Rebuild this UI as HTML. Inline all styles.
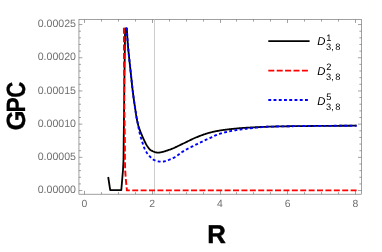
<!DOCTYPE html>
<html><head><meta charset="utf-8"><title>GPC vs R</title>
<style>
html,body{margin:0;padding:0;background:#fff;}
body{width:382px;height:252px;overflow:hidden;font-family:"Liberation Sans",sans-serif;}
svg{display:block;will-change:transform;text-rendering:geometricPrecision;font-family:"Liberation Sans",sans-serif;}
</style></head><body>
<svg width="382" height="252" viewBox="0 0 382 252">
<rect width="382" height="252" fill="#fff"/>
<rect x="78.95" y="19.6" width="282.45" height="174.60" fill="none" stroke="#666" stroke-width="0.62"/>
<line x1="154.5" y1="19.6" x2="154.5" y2="194.2" stroke="#cdcdcd" stroke-width="1"/>
<path d="M84.50 194.2v-3.4M84.50 19.6v3.4M101.50 194.2v-2.0M101.50 19.6v2.0M118.50 194.2v-2.0M118.50 19.6v2.0M135.50 194.2v-2.0M135.50 19.6v2.0M152.50 194.2v-3.4M152.50 19.6v3.4M169.50 194.2v-2.0M169.50 19.6v2.0M186.50 194.2v-2.0M186.50 19.6v2.0M203.50 194.2v-2.0M203.50 19.6v2.0M220.50 194.2v-3.4M220.50 19.6v3.4M236.50 194.2v-2.0M236.50 19.6v2.0M253.50 194.2v-2.0M253.50 19.6v2.0M270.50 194.2v-2.0M270.50 19.6v2.0M287.50 194.2v-3.4M287.50 19.6v3.4M304.50 194.2v-2.0M304.50 19.6v2.0M321.50 194.2v-2.0M321.50 19.6v2.0M338.50 194.2v-2.0M338.50 19.6v2.0M355.50 194.2v-3.4M355.50 19.6v3.4M78.95 190.55h3.4M361.4 190.55h-3.4M78.95 183.91h2.0M361.4 183.91h-2.0M78.95 177.27h2.0M361.4 177.27h-2.0M78.95 170.63h2.0M361.4 170.63h-2.0M78.95 163.99h2.0M361.4 163.99h-2.0M78.95 157.35h3.4M361.4 157.35h-3.4M78.95 150.71h2.0M361.4 150.71h-2.0M78.95 144.07h2.0M361.4 144.07h-2.0M78.95 137.43h2.0M361.4 137.43h-2.0M78.95 130.79h2.0M361.4 130.79h-2.0M78.95 124.15h3.4M361.4 124.15h-3.4M78.95 117.51h2.0M361.4 117.51h-2.0M78.95 110.87h2.0M361.4 110.87h-2.0M78.95 104.23h2.0M361.4 104.23h-2.0M78.95 97.59h2.0M361.4 97.59h-2.0M78.95 90.95h3.4M361.4 90.95h-3.4M78.95 84.31h2.0M361.4 84.31h-2.0M78.95 77.67h2.0M361.4 77.67h-2.0M78.95 71.03h2.0M361.4 71.03h-2.0M78.95 64.39h2.0M361.4 64.39h-2.0M78.95 57.75h3.4M361.4 57.75h-3.4M78.95 51.11h2.0M361.4 51.11h-2.0M78.95 44.47h2.0M361.4 44.47h-2.0M78.95 37.83h2.0M361.4 37.83h-2.0M78.95 31.19h2.0M361.4 31.19h-2.0M78.95 24.55h3.4M361.4 24.55h-3.4" stroke="#666" stroke-width="0.62" fill="none"/>
<path d="M108.20 177.00L110.20 190.10L121.30 190.10L123.00 170.00L123.50 160.00L123.70 140.00L124.20 100.00L125.00 35.00L125.10 28.50L126.80 28.50L127.38 38.11L127.95 45.82L128.53 51.81L129.10 57.46L129.68 62.88L130.26 68.16L130.83 73.37L131.41 78.84L131.98 84.42L132.56 89.66L133.14 94.32L133.71 98.64L134.29 102.66L134.86 106.41L135.44 110.28L136.02 114.40L136.59 117.77L137.17 120.78L137.74 123.37L138.32 125.54L138.89 127.41L139.47 129.09L140.05 130.67L140.62 132.17L141.20 133.59L141.77 134.94L142.35 136.25L142.93 137.52L143.50 138.78L144.08 140.05L144.65 141.30L145.23 142.51L145.81 143.66L146.38 144.71L146.96 145.64L147.53 146.49L148.11 147.33L148.69 148.12L149.26 148.85L149.84 149.47L150.41 149.98L150.99 150.35L151.57 150.65L152.14 150.93L152.72 151.21L153.29 151.46L153.87 151.70L154.45 151.91L155.02 152.10L155.60 152.26L156.17 152.40L156.75 152.50L157.32 152.57L157.90 152.60L158.48 152.59L159.05 152.57L159.63 152.52L160.20 152.44L160.78 152.35L161.36 152.24L161.93 152.12L162.51 151.97L163.08 151.82L163.66 151.66L164.24 151.48L164.81 151.30L165.39 151.11L165.96 150.92L166.54 150.72L167.12 150.53L167.69 150.33L168.27 150.14L168.84 149.95L169.42 149.76L170.00 149.57L170.57 149.37L171.15 149.15L171.72 148.93L172.30 148.70L172.88 148.46L173.45 148.21L174.03 147.96L174.60 147.70L175.18 147.43L175.75 147.16L176.33 146.88L176.91 146.61L177.48 146.32L178.06 146.04L178.63 145.76L179.21 145.47L179.79 145.19L180.36 144.91L180.94 144.63L181.51 144.35L182.09 144.07L182.67 143.80L183.24 143.53L183.82 143.27L184.39 142.99L184.97 142.72L185.55 142.44L186.12 142.15L186.70 141.87L187.27 141.58L187.85 141.30L188.43 141.01L189.00 140.73L189.58 140.44L190.15 140.16L190.73 139.88L191.31 139.60L191.88 139.32L192.46 139.05L193.03 138.78L193.61 138.51L194.18 138.26L194.76 138.00L195.34 137.76L195.91 137.52L196.49 137.28L197.06 137.05L197.64 136.82L198.22 136.59L198.79 136.37L199.37 136.14L199.94 135.92L200.52 135.70L201.10 135.48L201.67 135.27L202.25 135.05L202.82 134.85L203.40 134.64L203.98 134.44L204.55 134.24L205.13 134.05L205.70 133.86L206.28 133.68L206.86 133.50L207.43 133.33L208.01 133.16L208.58 132.99L209.16 132.84L209.74 132.69L210.31 132.54L210.89 132.39L211.46 132.25L212.04 132.11L212.62 131.97L213.19 131.84L213.77 131.71L214.34 131.58L214.92 131.46L215.49 131.34L216.07 131.22L216.65 131.11L217.22 130.99L217.80 130.89L218.37 130.78L218.95 130.68L219.53 130.58L220.10 130.48L220.68 130.39L221.25 130.30L221.83 130.21L222.41 130.13L222.98 130.05L223.56 129.97L224.13 129.89L224.71 129.81L225.29 129.74L225.86 129.67L226.44 129.60L227.01 129.53L227.59 129.46L228.17 129.39L228.74 129.33L229.32 129.26L229.89 129.19L230.47 129.13L231.05 129.07L231.62 129.00L232.20 128.94L232.77 128.88L233.35 128.82L233.92 128.76L234.50 128.70L235.08 128.64L235.65 128.58L236.23 128.53L236.80 128.47L237.38 128.42L237.96 128.37L238.53 128.32L239.11 128.27L239.68 128.22L240.26 128.17L240.84 128.13L241.41 128.08L241.99 128.04L242.56 128.00L243.14 127.96L243.72 127.92L244.29 127.88L244.87 127.84L245.44 127.80L246.02 127.77L246.60 127.73L247.17 127.70L247.75 127.66L248.32 127.63L248.90 127.60L249.48 127.56L250.05 127.53L250.63 127.50L251.20 127.47L251.78 127.43L252.35 127.40L252.93 127.37L253.51 127.34L254.08 127.31L254.66 127.28L255.23 127.25L255.81 127.22L256.39 127.19L256.96 127.16L257.54 127.13L258.11 127.10L258.69 127.07L259.27 127.04L259.84 127.02L260.42 126.99L260.99 126.96L261.57 126.94L262.15 126.91L262.72 126.89L263.30 126.86L263.87 126.84L264.45 126.82L265.03 126.80L265.60 126.78L266.18 126.76L266.75 126.74L267.33 126.72L267.91 126.71L268.48 126.69L269.06 126.67L269.63 126.65L270.21 126.64L270.78 126.62L271.36 126.60L271.94 126.59L272.51 126.57L273.09 126.56L273.66 126.54L274.24 126.53L274.82 126.51L275.39 126.50L275.97 126.48L276.54 126.47L277.12 126.46L277.70 126.44L278.27 126.43L278.85 126.42L279.42 126.40L280.00 126.39L280.58 126.38L281.15 126.37L281.73 126.36L282.30 126.35L282.88 126.34L283.46 126.33L284.03 126.32L284.61 126.31L285.18 126.30L285.76 126.29L286.34 126.28L286.91 126.27L287.49 126.26L288.06 126.25L288.64 126.24L289.22 126.24L289.79 126.23L290.37 126.22L290.94 126.21L291.52 126.20L292.09 126.20L292.67 126.19L293.25 126.18L293.82 126.17L294.40 126.17L294.97 126.16L295.55 126.15L296.13 126.14L296.70 126.14L297.28 126.13L297.85 126.12L298.43 126.12L299.01 126.11L299.58 126.11L300.16 126.10L300.73 126.09L301.31 126.09L301.89 126.08L302.46 126.07L303.04 126.07L303.61 126.06L304.19 126.06L304.77 126.05L305.34 126.05L305.92 126.04L306.49 126.03L307.07 126.03L307.65 126.02L308.22 126.02L308.80 126.01L309.37 126.01L309.95 126.00L310.52 125.99L311.10 125.99L311.68 125.98L312.25 125.98L312.83 125.97L313.40 125.97L313.98 125.96L314.56 125.96L315.13 125.95L315.71 125.95L316.28 125.94L316.86 125.94L317.44 125.93L318.01 125.93L318.59 125.92L319.16 125.92L319.74 125.91L320.32 125.91L320.89 125.90L321.47 125.90L322.04 125.89L322.62 125.89L323.20 125.88L323.77 125.88L324.35 125.87L324.92 125.87L325.50 125.86L326.08 125.86L326.65 125.86L327.23 125.85L327.80 125.85L328.38 125.84L328.95 125.84L329.53 125.84L330.11 125.83L330.68 125.83L331.26 125.82L331.83 125.82L332.41 125.82L332.99 125.81L333.56 125.81L334.14 125.81L334.71 125.80L335.29 125.80L335.87 125.79L336.44 125.79L337.02 125.79L337.59 125.79L338.17 125.78L338.75 125.78L339.32 125.78L339.90 125.77L340.47 125.77L341.05 125.77L341.63 125.76L342.20 125.76L342.78 125.76L343.35 125.75L343.93 125.75L344.51 125.75L345.08 125.75L345.66 125.74L346.23 125.74L346.81 125.74L347.38 125.74L347.96 125.73L348.54 125.73L349.11 125.73L349.69 125.73L350.26 125.72L350.84 125.72L351.42 125.72L351.99 125.72L352.57 125.71L353.14 125.71L353.72 125.71L354.30 125.71L354.87 125.71L355.45 125.70L356.02 125.70L356.60 125.70" stroke="#000" stroke-width="1.8" fill="none" stroke-linejoin="round"/>
<path d="M123.90 27.80L124.00 60.00L124.20 100.00L124.60 125.00L124.90 140.00L124.95 160.00L125.15 170.00L125.90 180.00L126.90 190.40L356.60 190.40" stroke="#f00" stroke-width="1.9" fill="none" stroke-linejoin="round" stroke-dasharray="6.0 2.4"/>
<path d="M126.00 28.50L126.80 28.50L127.38 38.11L127.95 45.82L128.53 51.81L129.10 57.46L129.68 62.88L130.26 68.16L130.83 73.37L131.41 78.84L131.98 84.42L132.56 89.66L133.14 94.32L133.71 98.64L134.29 102.66L134.86 106.41L135.44 110.28L136.02 114.40L136.59 117.59L137.17 120.40L137.74 123.19L138.32 126.30L138.89 129.52L139.47 132.30L140.05 134.61L140.62 136.67L141.20 138.58L141.77 140.42L142.35 142.26L142.93 144.09L143.50 145.84L144.08 147.46L144.65 148.87L145.23 150.04L145.81 151.08L146.38 152.05L146.96 152.93L147.53 153.75L148.11 154.51L148.69 155.20L149.26 155.84L149.84 156.44L150.41 157.03L150.99 157.60L151.57 158.15L152.14 158.67L152.72 159.15L153.29 159.57L153.87 159.93L154.45 160.23L155.02 160.44L155.60 160.62L156.17 160.80L156.75 160.96L157.32 161.12L157.90 161.26L158.48 161.38L159.05 161.49L159.63 161.58L160.20 161.64L160.78 161.68L161.36 161.70L161.93 161.69L162.51 161.65L163.08 161.59L163.66 161.50L164.24 161.40L164.81 161.27L165.39 161.12L165.96 160.96L166.54 160.78L167.12 160.59L167.69 160.39L168.27 160.17L168.84 159.95L169.42 159.71L170.00 159.48L170.57 159.23L171.15 158.98L171.72 158.74L172.30 158.49L172.88 158.24L173.45 157.99L174.03 157.71L174.60 157.40L175.18 157.05L175.75 156.69L176.33 156.29L176.91 155.89L177.48 155.46L178.06 155.03L178.63 154.59L179.21 154.15L179.79 153.71L180.36 153.27L180.94 152.85L181.51 152.44L182.09 152.04L182.67 151.67L183.24 151.32L183.82 150.98L184.39 150.64L184.97 150.31L185.55 149.99L186.12 149.67L186.70 149.35L187.27 149.04L187.85 148.73L188.43 148.43L189.00 148.13L189.58 147.83L190.15 147.53L190.73 147.24L191.31 146.94L191.88 146.65L192.46 146.36L193.03 146.08L193.61 145.79L194.18 145.50L194.76 145.22L195.34 144.93L195.91 144.64L196.49 144.36L197.06 144.07L197.64 143.79L198.22 143.50L198.79 143.22L199.37 142.94L199.94 142.66L200.52 142.38L201.10 142.11L201.67 141.83L202.25 141.56L202.82 141.29L203.40 141.01L203.98 140.74L204.55 140.47L205.13 140.21L205.70 139.94L206.28 139.67L206.86 139.41L207.43 139.15L208.01 138.88L208.58 138.62L209.16 138.36L209.74 138.10L210.31 137.84L210.89 137.57L211.46 137.30L212.04 137.03L212.62 136.77L213.19 136.50L213.77 136.23L214.34 135.97L214.92 135.70L215.49 135.45L216.07 135.20L216.65 134.95L217.22 134.72L217.80 134.49L218.37 134.27L218.95 134.06L219.53 133.86L220.10 133.67L220.68 133.49L221.25 133.31L221.83 133.14L222.41 132.98L222.98 132.82L223.56 132.66L224.13 132.51L224.71 132.37L225.29 132.23L225.86 132.09L226.44 131.96L227.01 131.83L227.59 131.71L228.17 131.59L228.74 131.47L229.32 131.35L229.89 131.24L230.47 131.13L231.05 131.02L231.62 130.91L232.20 130.81L232.77 130.71L233.35 130.60L233.92 130.51L234.50 130.41L235.08 130.31L235.65 130.22L236.23 130.13L236.80 130.04L237.38 129.95L237.96 129.86L238.53 129.78L239.11 129.69L239.68 129.61L240.26 129.53L240.84 129.45L241.41 129.37L241.99 129.29L242.56 129.22L243.14 129.14L243.72 129.07L244.29 129.00L244.87 128.93L245.44 128.86L246.02 128.79L246.60 128.73L247.17 128.66L247.75 128.60L248.32 128.53L248.90 128.47L249.48 128.41L250.05 128.34L250.63 128.28L251.20 128.22L251.78 128.16L252.35 128.10L252.93 128.04L253.51 127.98L254.08 127.92L254.66 127.86L255.23 127.80L255.81 127.74L256.39 127.68L256.96 127.61L257.54 127.55L258.11 127.49L258.69 127.43L259.27 127.37L259.84 127.31L260.42 127.25L260.99 127.19L261.57 127.14L262.15 127.09L262.72 127.05L263.30 127.00L263.87 126.96L264.45 126.93L265.03 126.90L265.60 126.87L266.18 126.85L266.75 126.82L267.33 126.79L267.91 126.77L268.48 126.75L269.06 126.72L269.63 126.70L270.21 126.68L270.78 126.66L271.36 126.64L271.94 126.62L272.51 126.60L273.09 126.58L273.66 126.56L274.24 126.55L274.82 126.53L275.39 126.51L275.97 126.50L276.54 126.48L277.12 126.47L277.70 126.45L278.27 126.44L278.85 126.42L279.42 126.41L280.00 126.40L280.58 126.39L281.15 126.37L281.73 126.36L282.30 126.35L282.88 126.34L283.46 126.33L284.03 126.32L284.61 126.31L285.18 126.30L285.76 126.29L286.34 126.28L286.91 126.27L287.49 126.26L288.06 126.25L288.64 126.24L289.22 126.23L289.79 126.22L290.37 126.22L290.94 126.21L291.52 126.20L292.09 126.19L292.67 126.18L293.25 126.18L293.82 126.17L294.40 126.16L294.97 126.16L295.55 126.15L296.13 126.14L296.70 126.13L297.28 126.13L297.85 126.12L298.43 126.12L299.01 126.11L299.58 126.10L300.16 126.10L300.73 126.09L301.31 126.08L301.89 126.08L302.46 126.07L303.04 126.07L303.61 126.06L304.19 126.06L304.77 126.05L305.34 126.04L305.92 126.04L306.49 126.03L307.07 126.03L307.65 126.02L308.22 126.02L308.80 126.01L309.37 126.01L309.95 126.00L310.52 125.99L311.10 125.99L311.68 125.98L312.25 125.98L312.83 125.97L313.40 125.97L313.98 125.96L314.56 125.96L315.13 125.95L315.71 125.95L316.28 125.94L316.86 125.94L317.44 125.93L318.01 125.93L318.59 125.92L319.16 125.92L319.74 125.91L320.32 125.91L320.89 125.90L321.47 125.90L322.04 125.89L322.62 125.89L323.20 125.88L323.77 125.88L324.35 125.87L324.92 125.87L325.50 125.86L326.08 125.86L326.65 125.86L327.23 125.85L327.80 125.85L328.38 125.84L328.95 125.84L329.53 125.84L330.11 125.83L330.68 125.83L331.26 125.82L331.83 125.82L332.41 125.82L332.99 125.81L333.56 125.81L334.14 125.81L334.71 125.80L335.29 125.80L335.87 125.79L336.44 125.79L337.02 125.79L337.59 125.79L338.17 125.78L338.75 125.78L339.32 125.78L339.90 125.77L340.47 125.77L341.05 125.77L341.63 125.76L342.20 125.76L342.78 125.76L343.35 125.75L343.93 125.75L344.51 125.75L345.08 125.75L345.66 125.74L346.23 125.74L346.81 125.74L347.38 125.74L347.96 125.73L348.54 125.73L349.11 125.73L349.69 125.73L350.26 125.72L350.84 125.72L351.42 125.72L351.99 125.72L352.57 125.71L353.14 125.71L353.72 125.71L354.30 125.71L354.87 125.71L355.45 125.70L356.02 125.70L356.60 125.70" stroke="#00f" stroke-width="1.9" fill="none" stroke-linejoin="round" stroke-dasharray="2.9 2.34"/>
<line x1="268.3" y1="41.2" x2="309.6" y2="41.2" stroke="#000" stroke-width="1.8"/>
<line x1="268.3" y1="70.7" x2="309.6" y2="70.7" stroke="#f00" stroke-width="1.8" stroke-dasharray="6.0 2.4"/>
<line x1="268.3" y1="100.0" x2="309.6" y2="100.0" stroke="#00f" stroke-width="1.8" stroke-dasharray="2.9 2.34"/>
<text x="317.3" y="45.4" font-size="11.3" font-style="italic" fill="#000">D</text>
<text x="326.3" y="41.0" font-size="9.3" fill="#000">1</text>
<text x="326.1" y="49.9" font-size="9.3" fill="#000">3,<tspan dx="1.3">8</tspan></text>
<text x="317.3" y="75.3" font-size="11.3" font-style="italic" fill="#000">D</text>
<text x="326.3" y="70.4" font-size="9.3" fill="#000">2</text>
<text x="326.1" y="79.9" font-size="9.3" fill="#000">3,<tspan dx="1.3">8</tspan></text>
<text x="317.3" y="105.0" font-size="11.3" font-style="italic" fill="#000">D</text>
<text x="326.3" y="99.9" font-size="9.3" fill="#000">5</text>
<text x="326.1" y="109.6" font-size="9.3" fill="#000">3,<tspan dx="1.3">8</tspan></text>
<text x="76.0" y="193.25" font-size="10.6" text-anchor="end" fill="#707070">0.00000</text>
<text x="76.0" y="160.05" font-size="10.6" text-anchor="end" fill="#707070">0.00005</text>
<text x="76.0" y="126.85" font-size="10.6" text-anchor="end" fill="#707070">0.00010</text>
<text x="76.0" y="93.65" font-size="10.6" text-anchor="end" fill="#707070">0.00015</text>
<text x="76.0" y="60.45" font-size="10.6" text-anchor="end" fill="#707070">0.00020</text>
<text x="76.0" y="27.25" font-size="10.6" text-anchor="end" fill="#707070">0.00025</text>
<text x="84.50" y="207.1" font-size="10.4" text-anchor="middle" fill="#707070">0</text>
<text x="152.25" y="207.1" font-size="10.4" text-anchor="middle" fill="#707070">2</text>
<text x="220.00" y="207.1" font-size="10.4" text-anchor="middle" fill="#707070">4</text>
<text x="287.75" y="207.1" font-size="10.4" text-anchor="middle" fill="#707070">6</text>
<text x="355.50" y="207.1" font-size="10.4" text-anchor="middle" fill="#707070">8</text>
<text x="216.6" y="242.5" font-size="25.7" font-weight="bold" text-anchor="middle" fill="#000" stroke="#000" stroke-width="0.5" stroke-linejoin="round">R</text>
<text transform="translate(24.5,130.6) rotate(-90) scale(0.9775,1)" font-size="26.4" font-weight="bold" fill="#000" stroke="#000" stroke-width="0.3" stroke-linejoin="round">G</text>
<text transform="translate(24.5,112.4) rotate(-90) scale(0.8634,1)" font-size="26.4" font-weight="bold" fill="#000" stroke="#000" stroke-width="0.3" stroke-linejoin="round">P</text>
<text transform="translate(24.5,97.8) rotate(-90) scale(0.8386,1)" font-size="26.4" font-weight="bold" fill="#000" stroke="#000" stroke-width="0.3" stroke-linejoin="round">C</text>
</svg>
</body></html>
